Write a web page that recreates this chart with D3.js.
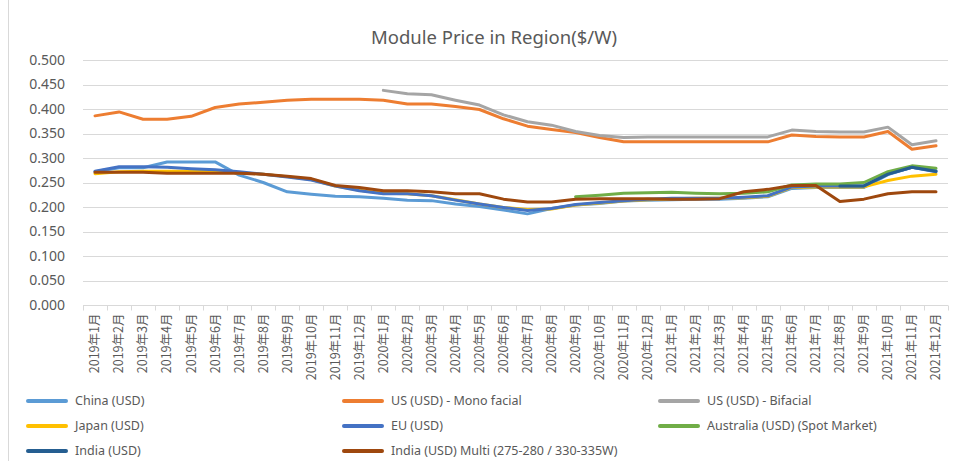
<!DOCTYPE html>
<html>
<head>
<meta charset="utf-8">
<script src="https://cdn.jsdelivr.net/npm/d3@7"></script>
<style>
  body { margin: 0; background: #fff; }
  svg { display: block; font-family: "Noto Sans", "Noto Sans CJK SC", sans-serif; }
  .grid line { stroke: #d9d9d9; stroke-width: 1; }
  .series { fill: none; stroke-width: 3; stroke-linejoin: round; stroke-linecap: round; }
</style>
</head>
<body>
<div id="main"></div>
<script>
var width = 966, height = 461;
var margin = { top: 60, right: 18, bottom: 156, left: 83 };

// categories
var months = [];
[2019, 2020, 2021].forEach(function(yr) {
  for (var m = 1; m <= 12; m++) months.push(yr + "年" + m + "月");
});

var yTicks = [0, 0.05, 0.1, 0.15, 0.2, 0.25, 0.3, 0.35, 0.4, 0.45, 0.5];

// series values (null = no data)
var china = [0.272, 0.280, 0.280, 0.292, 0.292, 0.292, 0.265, 0.250, 0.231, 0.226, 0.222, 0.221,
             0.218, 0.214, 0.213, 0.206, 0.201, 0.194, 0.186, 0.197, 0.204, 0.207, 0.212, 0.214,
             0.215, 0.216, 0.216, 0.218, 0.221, 0.238, 0.240, 0.240, 0.240, 0.266, 0.281, 0.274];
var usMono = [0.386, 0.394, 0.379, 0.379, 0.385, 0.403, 0.410, 0.414, 0.418, 0.420, 0.420, 0.420,
              0.418, 0.410, 0.410, 0.405, 0.399, 0.380, 0.365, 0.358, 0.352, 0.342, 0.333, 0.333,
              0.333, 0.333, 0.333, 0.333, 0.333, 0.347, 0.344, 0.343, 0.343, 0.354, 0.318, 0.325];
var usBifacial = [null, null, null, null, null, null, null, null, null, null, null, null,
                  0.438, 0.431, 0.429, 0.418, 0.408, 0.388, 0.374, 0.367, 0.354, 0.346, 0.342, 0.343,
                  0.343, 0.343, 0.343, 0.343, 0.343, 0.357, 0.354, 0.353, 0.353, 0.363, 0.327, 0.335];
var japan = [0.268, 0.272, 0.273, 0.273, 0.273, 0.272, 0.270, 0.267, 0.262, 0.256, 0.243, 0.234,
             0.228, 0.227, 0.223, 0.215, 0.206, 0.199, 0.195, 0.196, 0.204, 0.208, 0.212, 0.215,
             0.217, 0.218, 0.218, 0.219, 0.222, 0.240, 0.241, 0.241, 0.241, 0.254, 0.263, 0.267];
var eu = [0.273, 0.282, 0.282, 0.281, 0.278, 0.276, 0.272, 0.267, 0.261, 0.255, 0.243, 0.233,
          0.227, 0.227, 0.223, 0.214, 0.206, 0.199, 0.193, 0.197, 0.205, 0.209, 0.213, 0.216,
          0.218, 0.218, 0.218, 0.220, 0.223, 0.241, 0.243, 0.243, 0.243, 0.267, 0.281, 0.272];
var australia = [null, null, null, null, null, null, null, null, null, null, null, null,
                 null, null, null, null, null, null, null, null, 0.221, 0.224, 0.228, 0.229,
                 0.230, 0.228, 0.227, 0.228, 0.231, 0.245, 0.247, 0.247, 0.250, 0.272, 0.284, 0.279];
var india = [null, null, null, null, null, null, null, null, null, null, null, null,
             null, null, null, null, null, null, null, null, null, null, null, null,
             null, null, null, null, null, null, null, 0.243, 0.243, 0.267, 0.281, 0.273];
var indiaMulti = [0.271, 0.271, 0.271, 0.269, 0.269, 0.269, 0.269, 0.267, 0.263, 0.258, 0.244, 0.240,
                  0.233, 0.233, 0.231, 0.227, 0.227, 0.216, 0.210, 0.210, 0.216, 0.217, 0.217, 0.217,
                  0.216, 0.216, 0.217, 0.231, 0.236, 0.244, 0.244, 0.211, 0.216, 0.227, 0.231, 0.231];

var seriesNames = ["China (USD)", "US (USD) - Mono facial", "US (USD) - Bifacial",
                   "Japan (USD)", "EU (USD)", "Australia (USD) (Spot Market)",
                   "India (USD)", "India (USD) Multi (275-280 / 330-335W)"];
var seriesValues = [china, usMono, usBifacial, japan, eu, australia, india, indiaMulti];
var seriesColors = ["#5b9bd5", "#ed7d31", "#a5a5a5", "#ffc000", "#4472c4", "#70ad47", "#255e91", "#9e480e"];

var svg = d3.select("#main")
  .append("svg")
  .attr("width", width)
  .attr("height", height);

// chart border
svg.append("rect")
  .attr("x", 8.5).attr("y", -0.5)
  .attr("width", 1000).attr("height", 500)
  .attr("fill", "none")
  .attr("stroke", "#d9d9d9");

var x = d3.scaleBand()
  .domain(months)
  .range([margin.left, width - margin.right]);

var y = d3.scaleLinear()
  .domain([0, 0.5])
  .range([height - margin.bottom, margin.top]);

// title
svg.append("text")
  .attr("x", 494)
  .attr("y", 44)
  .attr("text-anchor", "middle")
  .style("font-size", "18.5px")
  .style("fill", "#595959")
  .text("Module Price in Region($/W)");

// gridlines + y labels
var grid = svg.append("g").classed("grid", true);
grid.selectAll("line")
  .data(yTicks.slice(1))
  .enter()
  .append("line")
  .attr("x1", margin.left).attr("x2", width - margin.right)
  .attr("y1", d => Math.round(y(d)) + 0.5)
  .attr("y2", d => Math.round(y(d)) + 0.5);

svg.selectAll(".ylab")
  .data(yTicks)
  .enter()
  .append("text")
  .classed("ylab", true)
  .attr("x", 65)
  .attr("y", d => y(d))
  .attr("dy", "0.35em")
  .attr("text-anchor", "end")
  .style("font-size", "14px")
  .style("fill", "#595959")
  .text(d => d3.format(".3f")(d));

// x axis
var xAxis = svg.append("g")
  .attr("transform", "translate(0," + (Math.round(y(0)) + 0.5) + ")");
xAxis.append("line")
  .attr("x1", margin.left).attr("x2", width - margin.right)
  .attr("stroke", "#d9d9d9");
xAxis.selectAll(".tick")
  .data(months.concat(["end"]))
  .enter()
  .append("line")
  .attr("x1", (d, i) => Math.round(margin.left + i * x.bandwidth()) + 0.5)
  .attr("x2", (d, i) => Math.round(margin.left + i * x.bandwidth()) + 0.5)
  .attr("y1", 0).attr("y2", 5)
  .attr("stroke", "#d9d9d9");
xAxis.selectAll(".xlab")
  .data(months)
  .enter()
  .append("text")
  .attr("transform", d => "translate(" + (x(d) + x.bandwidth() / 2) + ",8) rotate(-90)")
  .attr("dy", "0.35em")
  .attr("text-anchor", "end")
  .style("font-family", "'Noto Sans CJK SC', sans-serif")
  .style("font-size", "12.5px")
  .style("fill", "#595959")
  .text(d => d);

// lines
var line = d3.line()
  .defined(d => d != null)
  .x((d, i) => x(months[i]) + x.bandwidth() / 2)
  .y(d => y(d));

svg.selectAll(".series")
  .data(seriesValues)
  .enter()
  .append("path")
  .classed("series", true)
  .attr("d", d => line(d))
  .style("stroke", (d, i) => seriesColors[i]);

// legend
var legendCols = [28, 344, 660];
var legendRows = [401, 426, 451];
var legend = svg.selectAll(".legend")
  .data(seriesNames)
  .enter()
  .append("g")
  .attr("transform", (d, i) => "translate(" + legendCols[i % 3] + "," + legendRows[Math.floor(i / 3)] + ")");
legend.append("line")
  .attr("x1", 0).attr("x2", 38)
  .attr("stroke", (d, i) => seriesColors[i])
  .attr("stroke-width", 4)
  .attr("stroke-linecap", "round");
legend.append("text")
  .attr("x", 47)
  .attr("dy", "0.35em")
  .style("font-size", "12.5px")
  .style("fill", "#595959")
  .text(d => d);
</script>
</body>
</html>
